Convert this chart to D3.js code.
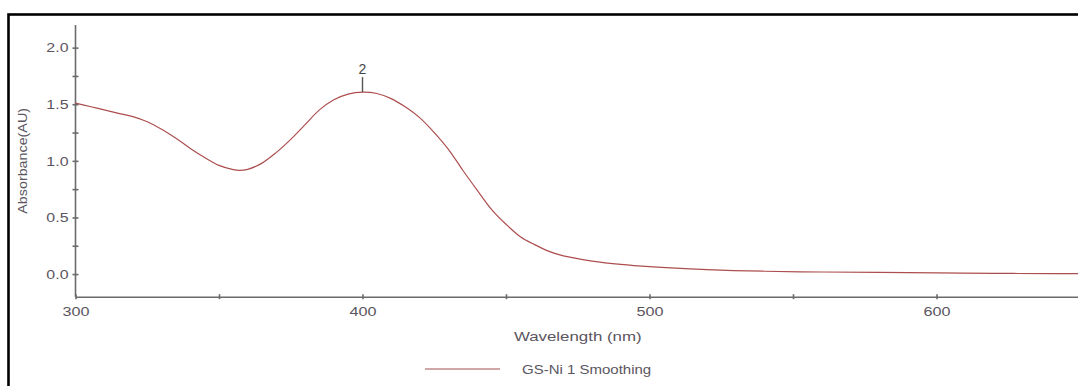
<!DOCTYPE html>
<html>
<head>
<meta charset="utf-8">
<script src="https://cdn.jsdelivr.net/npm/d3@7"></script>
<style>
  body { margin: 0; background: #fff; }
  svg { display: block; font-family: "Liberation Sans", Arial, sans-serif; }
  .axis path, .axis line { stroke: #6b6b6b; stroke-width: 1.6; }
  .axis text { fill: #5a5560; font-size: 13.5px; }
</style>
</head>
<body>
<svg id="chart" width="1078" height="386"></svg>
<script>
// spectrum
var wavelengths = [300, 305, 310, 315, 320, 325, 330, 335, 340, 345, 350, 355, 357, 360, 365, 370, 375, 380, 385, 390, 395, 400, 405, 410, 415, 420, 425, 430, 435, 440, 445, 450, 455, 460, 465, 470, 480, 490, 500, 520, 540, 560, 580, 600, 620, 640, 650]
var absorbance  = [1.51, 1.48, 1.45, 1.42, 1.39, 1.345, 1.28, 1.20, 1.11, 1.03, 0.96, 0.922, 0.916, 0.925, 0.98, 1.075, 1.19, 1.32, 1.45, 1.54, 1.59, 1.607, 1.595, 1.55, 1.475, 1.38, 1.25, 1.10, 0.915, 0.74, 0.57, 0.44, 0.33, 0.26, 0.20, 0.16, 0.115, 0.085, 0.065, 0.04, 0.025, 0.018, 0.014, 0.010, 0.006, 0.004, 0.003]

var xMajor = [300, 400, 500, 600]
var xTicks = [300, 350, 400, 450, 500, 550, 600, 650]
var yMajor = [0, 0.5, 1, 1.5, 2]
var yTicks = d3.range(0, 2.01, 0.25)

var peaks = [{wl: 400, abs: 1.607, label: '2'}]
var seriesName = 'GS-Ni 1 Smoothing'

var svg = d3.select('#chart')

var x = d3.scaleLinear().domain([300, 650]).range([75.5, 1080])
var y = d3.scaleLinear().domain([-0.2, 2.2]).range([296.7, 25])

var fmt = d3.format('.1f')

// frame, cut off at right and bottom like the screenshot
svg.append('rect')
  .attr('x', 8.5).attr('y', 14.5)
  .attr('width', 1200).attr('height', 500)
  .attr('fill', 'none').attr('stroke', '#000').attr('stroke-width', 2.6)

// y axis
var yAxis = svg.append('g').attr('class', 'axis')
  .attr('transform', 'translate(' + x(300) + ',0)')
  .call(d3.axisLeft(y).tickValues(yTicks).tickSize(3).tickSizeOuter(0)
    .tickFormat(d => yMajor.some(m => Math.abs(m - d) < 1e-6) ? fmt(d) : ''))
yAxis.selectAll('.tick line').attr('x1', -3).attr('x2', 3)
yAxis.selectAll('.tick text').attr('x', 0)
  .attr('transform', 'translate(-7,0) scale(1.18,1)')
yAxis.select('.domain').attr('d', 'M0,' + y(2.2) + 'V' + y(-0.2))

// x axis
var xAxis = svg.append('g').attr('class', 'axis')
  .attr('transform', 'translate(0,' + y(-0.2) + ')')
  .call(d3.axisBottom(x).tickValues(xTicks).tickSize(3).tickSizeOuter(0)
    .tickFormat(d => xMajor.includes(d) ? d : ''))
xAxis.selectAll('.tick line').attr('y1', -2.5).attr('y2', 2.5)
xAxis.selectAll('.tick text').attr('y', 10).attr('dy', '0.71em')
  .attr('transform', 'scale(1.2,1)')
  .attr('x', 0)

// axis titles
svg.append('text')
  .attr('transform', 'translate(' + x(475) + ',341) scale(1.25,1)')
  .attr('text-anchor', 'middle')
  .attr('fill', '#5a5560').attr('font-size', 13.5)
  .text('Wavelength (nm)')

svg.append('text')
  .attr('transform', 'translate(27,' + y(1) + ') rotate(-90) scale(1.1,1)')
  .attr('text-anchor', 'middle')
  .attr('fill', '#5a5560').attr('font-size', 13)
  .text('Absorbance(AU)')

// spectrum line
var pts = wavelengths.map((w, i) => [w, absorbance[i]])
svg.append('path')
  .datum(pts)
  .attr('fill', 'none')
  .attr('stroke', '#ad4e4e')
  .attr('stroke-width', 1.2)
  .attr('d', d3.line().x(d => x(d[0])).y(d => y(d[1])).curve(d3.curveCatmullRom.alpha(0.5)))

// peak markers
var peakSel = svg.selectAll('g.peak').data(peaks).join('g').attr('class', 'peak')
peakSel.append('line')
  .attr('x1', d => x(d.wl)).attr('x2', d => x(d.wl))
  .attr('y1', d => y(d.abs) - 15).attr('y2', d => y(d.abs))
  .attr('stroke', '#555').attr('stroke-width', 1.4)
peakSel.append('text')
  .attr('x', d => x(d.wl)).attr('y', d => y(d.abs) - 18)
  .attr('text-anchor', 'middle')
  .attr('fill', '#444').attr('font-size', 14)
  .text(d => d.label)

// legend
var leg = svg.append('g').attr('transform', 'translate(0,369)')
leg.append('line')
  .attr('x1', 425).attr('x2', 500)
  .attr('stroke', '#c08a8a').attr('stroke-width', 1.5)
leg.append('text')
  .attr('transform', 'translate(522,4.5) scale(1.2,1)')
  .attr('fill', '#5a5560').attr('font-size', 12.5)
  .text(seriesName)
</script>
</body>
</html>
